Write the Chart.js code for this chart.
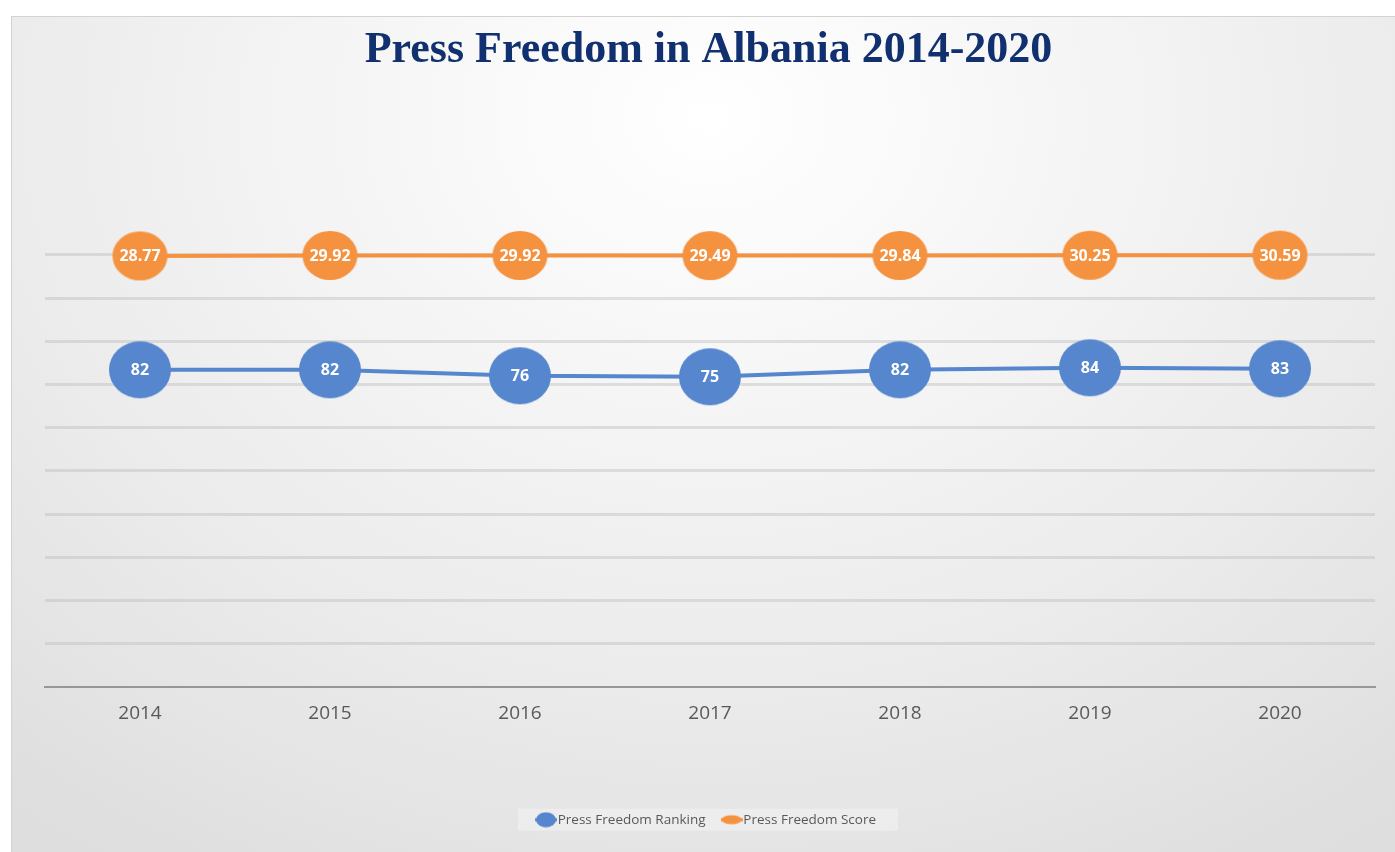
<!DOCTYPE html>
<html>
<head>
<meta charset="utf-8">
<title>Press Freedom in Albania 2014-2020</title>
<script src="https://cdn.jsdelivr.net/npm/chart.js@4.4.1/dist/chart.umd.min.js"></script>
<style>
  html, body { margin: 0; padding: 0; width: 1395px; height: 852px; overflow: hidden; background: #ffffff; }
  #frame {
    position: absolute; left: 11px; top: 16px; width: 1395px; height: 835px;
    border-left: 1px solid #d3d3d3; border-top: 1px solid #d3d3d3;
    background: radial-gradient(ellipse 80% 105% at 50% 12%, #ffffff 0%, #f6f6f6 30%, #ebebeb 65%, #dedede 100%);
  }
  canvas { display: block; }
</style>
</head>
<body>
<div id="frame"><canvas id="chart" width="1395" height="835"></canvas></div>
<script>
// Reporters Without Borders index for Albania
const years = ['2014', '2015', '2016', '2017', '2018', '2019', '2020'];
const ranking = [82, 82, 76, 75, 82, 84, 83];
const score = [28.77, 29.92, 29.92, 29.49, 29.84, 30.25, 30.59];
const seriesNames = ['Press Freedom Ranking', 'Press Freedom Score'];
const labelDigits = [0, 2];
const chartTitle = 'Press Freedom in Albania 2014-2020';

const BLUE = '#5586CE';
const ORANGE = '#F5923F';
const TEXT_GREY = '#595959';

// Oval marker drawn once on an offscreen canvas and reused as pointStyle
function ovalMark(rx, ry, color) {
  const c = document.createElement('canvas');
  c.width = Math.ceil(rx * 2) + 2;
  c.height = Math.ceil(ry * 2) + 2;
  const g = c.getContext('2d');
  g.fillStyle = color;
  g.beginPath();
  g.ellipse(c.width / 2, c.height / 2, rx, ry, 0, 0, Math.PI * 2);
  g.fill();
  return c;
}

// Small line-with-marker swatch for the legend
function legendSwatch(rx, ry, color) {
  const c = document.createElement('canvas');
  c.width = 22; c.height = 16;
  const g = c.getContext('2d');
  g.strokeStyle = color; g.lineWidth = 3;
  g.beginPath(); g.moveTo(0, 8); g.lineTo(22, 8); g.stroke();
  g.fillStyle = color;
  g.beginPath(); g.ellipse(11, 8, rx, ry, 0, 0, Math.PI * 2); g.fill();
  return c;
}

const swatches = [legendSwatch(10, 7.5, BLUE), legendSwatch(10, 4.5, ORANGE)];

// White value text centred in every marker
const valueLabels = {
  id: 'valueLabels',
  afterDatasetsDraw(chart) {
    const ctx = chart.ctx;
    ctx.save();
    ctx.font = 'bold 16px "Open Sans", sans-serif';
    ctx.fillStyle = '#ffffff';
    ctx.textAlign = 'center';
    ctx.textBaseline = 'middle';
    chart.data.datasets.forEach((ds, i) => {
      const meta = chart.getDatasetMeta(i);
      meta.data.forEach((pt, j) => {
        ctx.fillText(ds.data[j].toFixed(labelDigits[i]), pt.x, pt.y + 1);
      });
    });
    ctx.restore();
  }
};

// Pale panel behind the legend entries
const legendPanel = {
  id: 'legendPanel',
  beforeDraw(chart) {
    const hb = chart.legend && chart.legend.legendHitBoxes;
    if (!hb || !hb.length) return;
    const first = hb[0], last = hb[hb.length - 1];
    const cy = first.top + first.height / 2;
    const left = first.left - 23;
    const right = last.left + last.width + 22;
    const ctx = chart.ctx;
    ctx.save();
    ctx.fillStyle = 'rgba(255,255,255,0.3)';
    ctx.fillRect(left, cy - 11, right - left, 22);
    ctx.restore();
  }
};

new Chart(document.getElementById('chart'), {
  type: 'line',
  data: {
    labels: years,
    datasets: [
      {
        label: seriesNames[0],
        data: ranking,
        yAxisID: 'yRank',
        borderColor: BLUE,
        backgroundColor: BLUE,
        borderWidth: 4,
        pointStyle: ovalMark(31, 28.5, BLUE),
        pointRadius: 28,
        tension: 0
      },
      {
        label: seriesNames[1],
        data: score,
        yAxisID: 'yScore',
        borderColor: ORANGE,
        backgroundColor: ORANGE,
        borderWidth: 4,
        pointStyle: ovalMark(27.5, 24.5, ORANGE),
        pointRadius: 25,
        tension: 0
      }
    ]
  },
  options: {
    responsive: false,
    animation: false,
    events: [],
    layout: { padding: { left: 27, right: 29, top: 0, bottom: 15.5 } },
    plugins: {
      title: {
        display: true,
        text: chartTitle,
        color: '#11306F',
        font: { family: '"Liberation Serif", "Times New Roman", serif', size: 44, weight: 'bold', lineHeight: 1.2 },
        padding: { top: 7, bottom: 135 }
      },
      legend: {
        position: 'bottom',
        labels: {
          color: TEXT_GREY,
          font: { family: '"Open Sans", sans-serif', size: 13.5 },
          usePointStyle: true,
          pointStyleWidth: 10,
          padding: 21,
          generateLabels(chart) {
            const items = Chart.defaults.plugins.legend.labels.generateLabels(chart);
            items.forEach((it, i) => { it.pointStyle = swatches[i]; });
            return items;
          }
        }
      },
      tooltip: { enabled: false }
    },
    scales: {
      x: {
        offset: true,
        grid: { display: false, drawTicks: false },
        border: { display: true, color: '#979797', width: 2 },
        ticks: { color: TEXT_GREY, font: { family: '"Open Sans", sans-serif', size: 19 }, padding: 15 },
        afterFit(s) { s.height = 105.3; }
      },
      y: {
        position: 'left',
        min: 0,
        max: 11,
        ticks: { display: false, stepSize: 1 },
        grid: {
          drawTicks: false,
          lineWidth: 3,
          color: c => (c.tick.value === 0 || c.tick.value === 11) ? 'rgba(0,0,0,0)' : 'rgba(185,185,185,0.4)'
        },
        border: { display: false },
        afterFit(s) { s.width = 6; }
      },
      yRank: { display: false, min: -235, max: 240 },
      yScore: { display: false, min: -1048, max: 139 }
    }
  },
  plugins: [legendPanel, valueLabels]
});
</script>
</body>
</html>
